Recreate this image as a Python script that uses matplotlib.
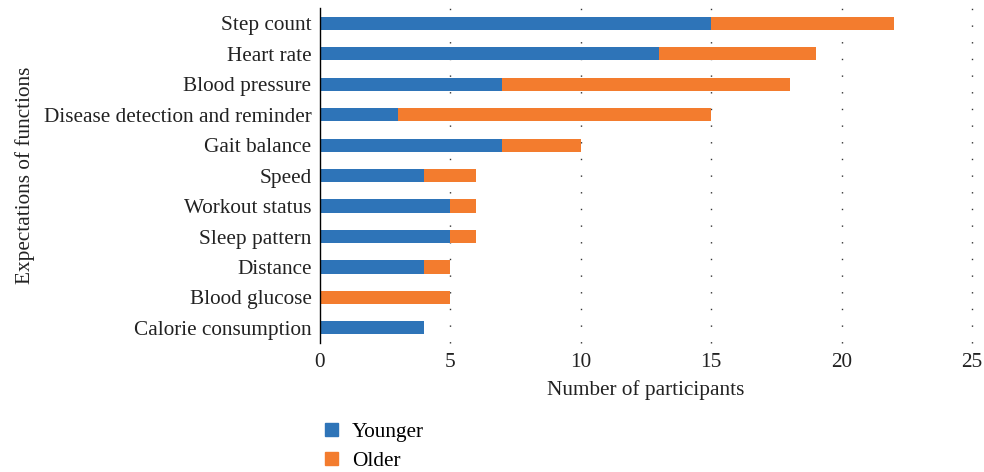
import matplotlib.pyplot as plt
from matplotlib.patches import Patch

categories = ["Step count", "Heart rate", "Blood pressure", "Disease detection and reminder",
              "Gait balance", "Speed", "Workout status", "Sleep pattern", "Distance",
              "Blood glucose", "Calorie consumption"]
younger = [15, 13, 7, 3, 7, 4, 5, 5, 4, 0, 4]
older = [7, 6, 11, 12, 3, 2, 1, 1, 1, 5, 0]
x_ticks = [0, 5, 10, 15, 20, 25]

blue = "#2E74B8"
orange = "#F37C2E"

plt.rcParams["font.family"] = ["Liberation Serif", "DejaVu Serif"]

fig = plt.figure(figsize=(9.84, 4.72), dpi=100)
ax = fig.add_axes([0.325, 0.273, 0.663, 0.71])

pos = list(range(len(categories)))
ax.barh(pos, younger, height=0.43, color=blue, zorder=2)
ax.barh(pos, older, left=younger, height=0.43, color=orange, zorder=2)

ax.set_ylim(10.5, -0.5)
ax.set_xlim(0, 25)
ax.set_xticks(x_ticks)
ax.set_xticklabels([str(t) for t in x_ticks])
ax.set_yticks(pos)
ax.set_yticklabels(categories)

for t in x_ticks[1:]:
    ax.axvline(t, color="#333333", linewidth=1.0, linestyle=(0, (1, 11)),
               zorder=1, clip_on=False)

for s in ["top", "right", "bottom"]:
    ax.spines[s].set_visible(False)
ax.spines["left"].set_color("black")
ax.spines["left"].set_linewidth(1.0)
ax.tick_params(axis="both", length=0, labelsize=15.3, colors="#222222", pad=6)
ax.tick_params(axis="x", pad=7)

ax.set_xlabel("Number of participants", fontsize=15.3, color="#222222", labelpad=6)
ax.set_ylabel("Expectations of functions", fontsize=15.3, color="#222222", labelpad=6)

handles = [Patch(color=blue, label="Younger"), Patch(color=orange, label="Older")]
fig.legend(handles=handles, loc="upper left", bbox_to_anchor=(0.322, 0.122),
           frameon=False, fontsize=15.3, handlelength=0.6, handleheight=0.6,
           handletextpad=0.65, labelspacing=0.45, borderaxespad=0)

fig.savefig("out.png", dpi=100)
